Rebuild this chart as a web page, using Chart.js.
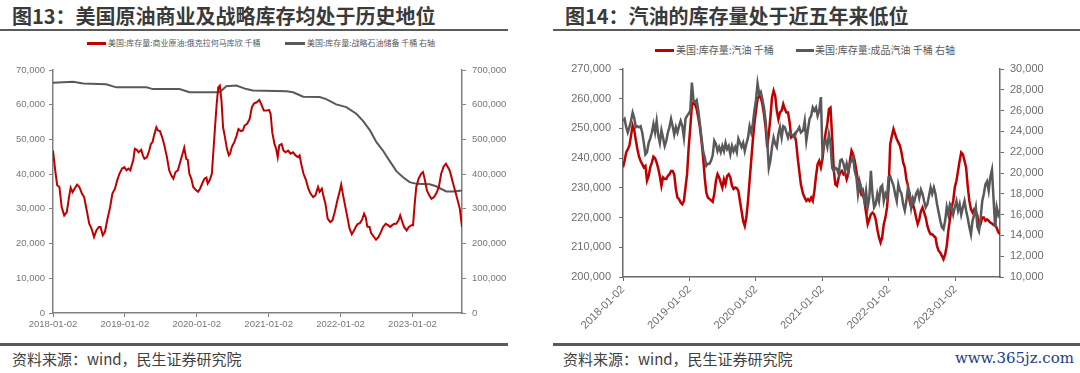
<!DOCTYPE html>
<html><head><meta charset="utf-8">
<script src="https://cdn.jsdelivr.net/npm/chart.js@4.4.0/dist/chart.umd.min.js"></script>
<style>
body{margin:0;width:1080px;height:373px;background:#fff;position:relative;overflow:hidden;font-family:"Noto Sans CJK SC","Noto Sans",sans-serif;}
.abs{position:absolute;white-space:nowrap;}
.title{font-size:20px;font-weight:bold;color:#3a3a3a;line-height:20px;top:6px;}
.rule{position:absolute;height:2px;background:#5a5a5a;}
.leg8{font-size:8px;color:#595959;line-height:10px;top:38px;}
.leg10{font-size:10px;color:#595959;line-height:12px;top:44px;}
.sw{position:absolute;height:3px;}
.src{font-size:15px;color:#404040;line-height:16px;top:351px;}
canvas{position:absolute;}
</style></head><body>

<div class="abs title" style="left:12px">图13：美国原油商业及战略库存均处于历史地位</div>
<div class="abs title" style="left:565px">图14：汽油的库存量处于近五年来低位</div>
<div class="rule" style="left:0;width:508px;top:29px"></div>
<div class="rule" style="left:553px;width:527px;top:29px"></div>

<div class="sw" style="left:87px;width:19px;top:42px;background:#c00000"></div>
<div class="abs leg8" style="left:108px">美国:库存量:商业原油:俄克拉何马库欣 千桶</div>
<div class="sw" style="left:285px;width:20px;top:42px;background:#595959"></div>
<div class="abs leg8" style="left:307px">美国:库存量:战略石油储备 千桶 右轴</div>

<div class="sw" style="left:655px;width:19px;top:49px;background:#c00000"></div>
<div class="abs leg10" style="left:676px">美国:库存量:汽油 千桶</div>
<div class="sw" style="left:796px;width:18px;top:49px;background:#595959"></div>
<div class="abs leg10" style="left:815px">美国:库存量:成品汽油 千桶 右轴</div>

<canvas id="c1" width="540" height="290" style="left:0;top:50px"></canvas>
<canvas id="c2" width="540" height="290" style="left:540px;top:50px"></canvas>

<div class="rule" style="left:0;width:508px;top:343px;height:2.5px"></div>
<div class="rule" style="left:553px;width:527px;top:343px;height:2.5px"></div>
<div class="abs src" style="left:12px">资料来源：wind，民生证券研究院</div>
<div class="abs src" style="left:563px">资料来源：wind，民生证券研究院</div>
<div class="abs" style="right:6px;top:350px;font-family:'DejaVu Serif',serif;font-size:15px;color:#1f3c88;line-height:16px">www.365jz.com</div>

<script>
// ---------- Figure 13 data ----------
const yearTickValues = [2018, 2019, 2020, 2021, 2022, 2023];
const yearTickLabels = ['2018-01-02','2019-01-02','2020-01-02','2021-01-02','2022-01-02','2023-01-02'];

const cushingDates = [
2018.000,2018.031,2018.058,2018.089,2018.121,2018.156,2018.192,2018.223,2018.246,2018.272,2018.299,2018.335,2018.366,2018.402,2018.433,2018.469,2018.504,2018.536,2018.571,2018.603,2018.638,2018.661,2018.692,2018.723,2018.759,2018.795,2018.826,2018.862,2018.893,2018.924,2018.960,2018.991,
2019.022,2019.049,2019.076,2019.094,2019.116,2019.138,2019.165,2019.192,2019.228,2019.250,2019.272,2019.308,2019.339,2019.362,2019.384,2019.406,2019.438,2019.460,2019.487,2019.518,2019.549,2019.585,2019.616,2019.647,2019.674,2019.705,2019.737,2019.763,2019.795,2019.826,2019.853,2019.875,2019.897,2019.924,2019.951,2019.987,
2020.018,2020.045,2020.076,2020.107,2020.134,2020.152,2020.179,2020.210,2020.232,2020.254,2020.277,2020.299,2020.321,2020.344,2020.366,2020.388,2020.420,2020.446,2020.464,2020.487,2020.522,2020.554,2020.580,2020.612,2020.643,2020.665,2020.701,2020.736,2020.767,2020.799,2020.835,2020.870,2020.897,2020.933,2020.969,
2021.005,2021.027,2021.050,2021.081,2021.104,2021.126,2021.148,2021.180,2021.207,2021.238,2021.270,2021.305,2021.341,2021.373,2021.409,2021.431,2021.453,2021.485,2021.521,2021.552,2021.583,2021.619,2021.651,2021.687,2021.709,2021.740,2021.763,2021.790,2021.821,2021.857,2021.888,2021.920,2021.956,2021.987,
2022.009,2022.036,2022.068,2022.099,2022.126,2022.157,2022.189,2022.211,2022.238,2022.269,2022.301,2022.328,2022.350,2022.373,2022.404,2022.426,2022.458,2022.494,2022.530,2022.561,2022.592,2022.628,2022.660,2022.691,2022.718,2022.749,2022.776,2022.807,2022.830,2022.852,2022.884,2022.920,2022.951,2022.987,
2023.009,2023.032,2023.054,2023.086,2023.122,2023.148,2023.175,2023.202,2023.234,2023.265,2023.301,2023.332,2023.368,2023.400,2023.435,2023.467,2023.494,2023.520,2023.570,2023.610,2023.660,2023.690];
const cushingValues = [
46800,41100,36800,36300,30500,28100,29100,33400,36100,34800,35800,37000,36300,34400,33400,29600,25700,24300,21900,23800,24800,24800,22400,23400,27200,30500,34400,35800,38200,40100,41600,42000,
41100,41600,41100,42500,43900,47300,47000,46300,47000,45400,44400,44900,46800,48700,49200,51100,53500,52600,52400,50700,48300,44900,41100,39600,38700,40600,41100,43000,45400,47600,44400,44100,40100,38700,36300,35400,
34900,35800,37300,38700,39000,37300,38200,40100,46800,53500,60200,65000,65500,61200,53500,51100,47300,45400,45900,47800,49200,51100,53000,52400,52600,54000,54500,55900,59300,60400,60700,61400,60200,58300,58300,
58500,57400,52100,48700,47300,44900,48300,48700,46800,46300,46800,45900,46300,45400,44900,45400,43000,40100,38200,35800,34400,33400,33900,36300,34900,35800,33600,31500,27200,26200,26700,29100,32500,34900,
37000,33900,30500,27200,24300,22700,23800,24800,25600,25900,26900,28600,27600,24900,24800,23000,22100,21100,21900,23300,24800,25700,25300,24800,25300,25700,25700,26700,28100,26700,24800,23800,24800,25300,
25300,31500,36300,38700,40100,40600,38200,35300,33900,32900,33400,34400,36300,40100,42200,43000,42000,41000,37000,34000,30000,24800];

const sprDates = [2018.00,2018.28,2018.42,2018.74,2018.88,2019.30,2019.39,2019.76,2019.90,2020.32,2020.41,2020.55,2020.69,2020.78,2021.25,2021.34,2021.48,2021.71,2021.80,2021.94,2022.08,2022.22,2022.31,2022.41,2022.50,2022.59,2022.68,2022.78,2022.87,2022.96,2023.06,2023.24,2023.33,2023.47,2023.57,2023.69];
const sprValues = [663000,666000,661000,659000,650000,650000,645000,645000,636000,636000,653000,655000,645000,641000,639000,636000,623000,622000,616000,601000,593000,574000,554000,526000,492000,468000,439000,408000,391000,377000,372000,371000,365000,350000,350000,353000];

// ---------- Figure 14 data ----------
const gasDates = [
2018.000,2018.024,2018.048,2018.072,2018.096,2018.120,2018.145,2018.169,2018.193,2018.217,2018.241,2018.265,2018.289,2018.313,2018.337,2018.361,2018.386,2018.410,2018.434,2018.458,2018.482,2018.506,2018.530,2018.554,2018.578,2018.602,2018.627,2018.651,2018.675,2018.699,2018.723,2018.747,2018.771,2018.795,2018.819,2018.843,2018.867,2018.892,2018.916,2018.940,2018.964,2018.988,
2019.012,2019.036,2019.060,2019.084,2019.108,2019.133,2019.157,2019.181,2019.205,2019.229,2019.253,2019.277,2019.301,2019.325,2019.349,2019.373,2019.398,2019.422,2019.446,2019.470,2019.494,2019.518,2019.542,2019.566,2019.590,2019.614,2019.639,2019.663,2019.687,2019.711,2019.735,2019.759,2019.783,2019.807,2019.831,2019.855,2019.880,2019.904,2019.928,2019.952,2019.976,
2020.000,2020.024,2020.048,2020.072,2020.096,2020.120,2020.145,2020.169,2020.193,2020.217,2020.241,2020.265,2020.289,2020.313,2020.337,2020.361,2020.386,2020.410,2020.434,2020.458,2020.482,2020.506,2020.530,2020.554,2020.578,2020.602,2020.627,2020.651,2020.675,
2020.709,2020.733,2020.757,2020.782,2020.806,2020.830,2020.854,2020.879,2020.903,2020.927,2020.951,2020.976,
2021.000,2021.024,2021.049,2021.073,2021.097,2021.121,2021.146,2021.170,2021.194,2021.218,2021.243,2021.267,2021.291,2021.316,2021.340,2021.364,2021.388,2021.413,2021.437,2021.461,2021.485,2021.510,2021.534,2021.558,2021.583,2021.607,2021.631,2021.655,2021.680,2021.704,2021.728,2021.752,2021.777,2021.801,2021.825,2021.850,2021.874,2021.898,2021.922,2021.947,2021.971,2021.995,
2022.019,2022.044,2022.068,2022.092,2022.117,2022.141,2022.165,2022.189,2022.214,2022.238,2022.262,2022.286,2022.311,2022.335,2022.359,2022.383,2022.408,2022.432,2022.456,2022.481,2022.505,2022.529,2022.553,2022.578,2022.602,2022.626,2022.650,2022.675,2022.699,2022.723,2022.748,2022.772,2022.796,2022.820,2022.845,2022.869,2022.893,2022.917,2022.942,2022.966,2022.990,
2023.015,2023.039,2023.063,2023.087,2023.112,2023.136,2023.160,2023.184,2023.209,2023.233,2023.257,2023.282,2023.306,2023.330,2023.354,2023.379,2023.403,2023.427,2023.451,2023.476,2023.500,2023.524,
2023.549,2023.573,2023.597,2023.621,2023.646,2023.670];

const gasolineValues = [
236900,239100,241900,243000,244200,247500,251000,249500,246000,243000,240500,239000,238000,236900,237400,232400,234000,236900,238500,240500,240000,238500,236500,234000,230700,233500,233000,233000,234000,234600,235700,235700,234500,229600,226700,226200,225100,224500,225600,230100,234600,243600,
250300,257600,258800,258000,256500,253500,250300,245800,240200,233500,228400,226700,226300,225800,225300,227900,232400,234600,233500,231800,230100,232900,231200,234000,234600,233500,230700,229600,230100,229900,229000,225600,222200,218900,217200,220000,225600,232400,239100,245800,251500,
256000,259900,261000,260400,258200,254800,250300,243600,248100,253700,260400,262700,261000,256000,253100,255400,256000,258200,256500,255400,255400,252000,247000,247500,248100,245800,240200,235700,231200,
227900,226700,225600,226200,225600,226700,225600,229000,234000,238000,239100,236900,
239700,244700,248700,251500,256500,257000,247000,236000,231200,230700,233500,235200,235700,234600,235200,232900,234600,239100,242500,241300,239100,235700,232400,229600,227900,229000,225600,221700,217800,219400,221100,221700,221100,219400,216100,213300,211600,213300,217800,220000,223400,230000,
244700,247500,249800,248100,246400,245300,244200,241900,238500,236900,232900,230700,225600,223400,224500,222800,220000,217800,219400,222200,223400,221700,220000,217200,215500,214400,214400,213800,213300,210400,208800,208200,207100,206000,207600,210400,215500,219400,223400,225600,230100,
232400,235700,239100,241900,241300,239100,236900,230700,225600,222800,221700,222800,222200,220600,216700,217800,220000,220000,218900,219400,218900,218300,
218000,217500,217600,216500,215000,214400];

const finishedValues = [
25000,25200,24400,23900,24400,25000,25800,25300,24400,24500,24400,24500,23900,22900,21800,22000,22900,23300,23900,24700,23900,25000,23600,22900,24100,23400,22600,23100,23900,24400,25200,24500,23700,24400,23900,24500,25000,24500,23400,25200,25500,25700,
26000,28700,27000,26800,27000,26000,24700,23400,22100,21500,20700,20900,20900,21200,21700,23100,22800,22100,22500,22000,22600,22100,22900,22300,22600,21800,22600,22100,22500,22000,23300,22900,22500,22900,22100,22800,23400,24500,23900,24700,26000,
27000,28600,27600,27800,27100,26300,25000,23100,20500,21200,22500,23400,22800,22500,23700,24400,23400,24500,24400,23900,23400,23900,23700,23600,23400,23900,24100,24400,23900,
24100,25000,23100,24200,25200,25500,26300,26000,26300,25500,26000,27300,
22000,22800,23100,22500,23700,22800,20500,20200,20500,20400,19900,21200,21300,20900,20200,20900,20200,20900,21200,21500,20200,19600,18000,19200,18600,18000,17300,18300,16700,17600,20200,18000,16700,17000,18000,17300,18600,18800,17300,18000,17600,19600,
19700,19200,18800,18000,17300,18900,18300,18000,17000,16400,17300,18600,18100,16700,17600,17300,18000,18300,17600,18400,18000,17300,16700,17000,17800,18600,18000,18600,18000,17000,16200,15400,14800,14600,15400,16700,16000,17000,16700,16000,16700,
17300,16400,17000,16000,16700,17300,16400,15700,14800,14100,15400,16000,16700,14800,14400,15700,17300,18000,18900,19200,18300,19600,
20300,17500,14800,16700,16000,16400];

// ---------- helpers ----------
const RED = '#c00000', GRAY = '#595959';
const toXY = (xs, ys) => xs.map((x, i) => ({x: x, y: ys[i]}));
const fmt = v => Number(v).toLocaleString('en-US');
const setYearTicks = s => { s.ticks = yearTickValues.map(v => ({value: v})); };
const yearLabel = (v, i) => yearTickLabels[i];

function axisBase(color, tickColor, font) {
  return {
    grid: {display: true, drawOnChartArea: false, drawTicks: true, tickLength: 4, color: color, lineWidth: 1},
    border: {display: true, color: color, width: 1.5},
    ticks: {color: tickColor, font: font}
  };
}

// ---------- Figure 13 chart ----------
const narrow = {family: '"Liberation Sans Narrow","Liberation Sans",Arial,sans-serif', size: 9.5};
const axL = '#808080', tkL = '#767676';
new Chart(document.getElementById('c1'), {
  type: 'line',
  data: {datasets: [
    {label: '美国:库存量:商业原油:俄克拉何马库欣 千桶', data: toXY(cushingDates, cushingValues), borderColor: RED, backgroundColor: RED, borderWidth: 2, pointRadius: 0, tension: 0, yAxisID: 'y', order: 1},
    {label: '美国:库存量:战略石油储备 千桶 右轴', data: toXY(sprDates, sprValues), borderColor: GRAY, backgroundColor: GRAY, borderWidth: 2, pointRadius: 0, tension: 0, yAxisID: 'y1', order: 2}
  ]},
  options: {
    responsive: false, animation: false, devicePixelRatio: 1,
    layout: {padding: {top: 20, left: 0, right: 0, bottom: 0}},
    plugins: {legend: {display: false}, tooltip: {enabled: false}},
    scales: {
      x: Object.assign(axisBase(axL, tkL, narrow), {
        type: 'linear', min: 2018, max: 2023.69,
        afterBuildTicks: setYearTicks,
        afterFit: s => { s.height = 27; },
        ticks: {color: tkL, font: narrow, autoSkip: false, maxRotation: 0, minRotation: 0, padding: 2, callback: yearLabel}
      }),
      y: Object.assign(axisBase(axL, tkL, narrow), {
        position: 'left', min: 0, max: 70000,
        afterFit: s => { s.width = 53; },
        ticks: {color: tkL, font: narrow, stepSize: 10000, padding: 4, callback: fmt}
      }),
      y1: Object.assign(axisBase(axL, tkL, narrow), {
        position: 'right', min: 0, max: 700000,
        afterFit: s => { s.width = 78; },
        ticks: {color: tkL, font: narrow, stepSize: 100000, padding: 6, callback: fmt}
      })
    }
  }
});

// ---------- Figure 14 chart ----------
const reg = {family: '"Liberation Sans",Arial,sans-serif', size: 11};
const axR = '#6a6a6a', tkR = '#6d6d6d';
new Chart(document.getElementById('c2'), {
  type: 'line',
  data: {datasets: [
    {label: '美国:库存量:汽油 千桶', data: toXY(gasDates, gasolineValues), borderColor: RED, backgroundColor: RED, borderWidth: 2.5, pointRadius: 0, tension: 0, yAxisID: 'y', order: 2},
    {label: '美国:库存量:成品汽油 千桶 右轴', data: toXY(gasDates, finishedValues), borderColor: GRAY, backgroundColor: GRAY, borderWidth: 2.5, pointRadius: 0, tension: 0, yAxisID: 'y1', order: 1}
  ]},
  options: {
    responsive: false, animation: false, devicePixelRatio: 1,
    layout: {padding: {top: 19, left: 0, right: 0, bottom: 0}},
    plugins: {legend: {display: false}, tooltip: {enabled: false}},
    scales: {
      x: Object.assign(axisBase(axR, tkR, reg), {
        type: 'linear', min: 2018, max: 2023.67,
        afterBuildTicks: setYearTicks,
        afterFit: s => { s.height = 63; },
        ticks: {color: tkR, font: reg, autoSkip: false, maxRotation: 45, minRotation: 45, padding: 2, callback: yearLabel}
      }),
      y: Object.assign(axisBase(axR, tkR, reg), {
        position: 'left', min: 200000, max: 270000,
        afterFit: s => { s.width = 83; },
        ticks: {color: tkR, font: reg, stepSize: 10000, padding: 8, callback: fmt}
      }),
      y1: Object.assign(axisBase(axR, tkR, reg), {
        position: 'right', min: 10000, max: 30000,
        afterFit: s => { s.width = 80; },
        ticks: {color: tkR, font: reg, stepSize: 2000, padding: 6, callback: fmt}
      })
    }
  }
});
</script>
</body></html>
